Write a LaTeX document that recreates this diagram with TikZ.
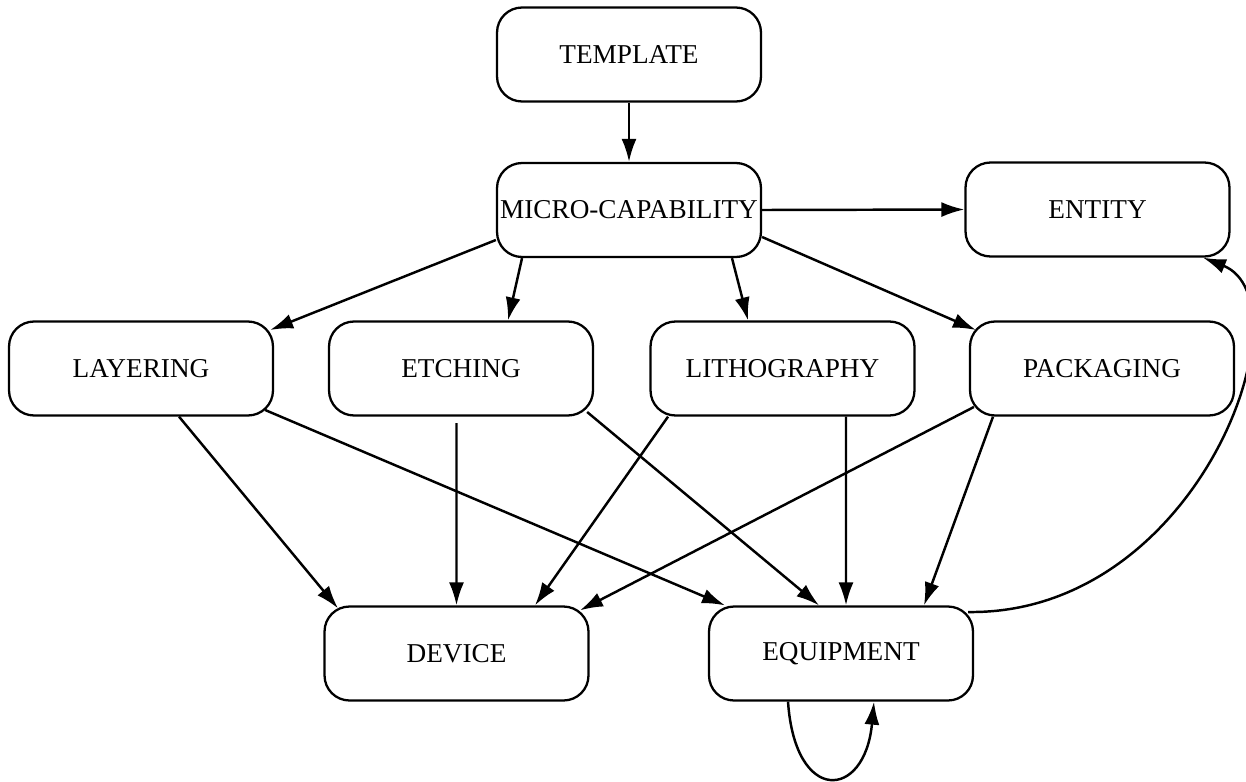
\documentclass[tikz,border=0pt]{standalone}
\usepackage{fontspec}
\setmainfont{Liberation Serif}
\usetikzlibrary{arrows.meta}

\begin{document}
\begin{tikzpicture}[x = 0.02cm, y = -0.02cm,
    box/.style = {shape = rectangle, draw, rounded corners = 0.5cm, line width = 1.3pt,
        minimum width = 5.28cm, minimum height = 1.88cm, inner sep = 0pt,
        font = \fontsize{15.5}{18}\selectfont},
    link/.style = {line width = 1.4pt, -{Latex[length = 0.46cm, width = 0.3cm]}}]
    \useasboundingbox (0,0) rectangle (1246,781);
    \node[box] (T) at (629,54.5) {TEMPLATE};
    \node[box] (MC) at (629,210) {MICRO-CAPABILITY};
    \node[box] (EN) at (1097.5,209.5) {ENTITY};
    \node[box] (LA) at (141,368.5) {LAYERING};
    \node[box] (ET) at (461,368.5) {ETCHING};
    \node[box] (LI) at (782.5,368.5) {LITHOGRAPHY};
    \node[box] (PA) at (1102,368.5) {PACKAGING};
    \node[box] (DE) at (456.5,653.5) {DEVICE};
    \node[box] (EQ) at (841,653.5) {EQUIPMENT};

    \draw[link] (T.south) -- (MC.north);
    \draw[link] (MC.east) -- (EN.west);
    \draw[link] ([yshift = -0.6cm]MC.west) -- ([xshift = -0.08cm, yshift = 0.77cm]LA.east);
    \draw[link] ([xshift = -2.14cm]MC.south) -- ([xshift = 0.94cm]ET.north);
    \draw[link] ([xshift = 2.06cm]MC.south) -- ([xshift = -0.69cm]LI.north);
    \draw[link] ([yshift = -0.54cm]MC.east) -- ([xshift = 0.14cm, yshift = 0.77cm]PA.west);

    \draw[link] ([xshift = 0.76cm]LA.south) -- ([xshift = -2.37cm, yshift = -0.06cm]DE.north);
    \draw[link] ([xshift = -0.18cm, yshift = -0.83cm]LA.east) -- ([xshift = -2.32cm]EQ.north);
    \draw[link] ([xshift = -0.09cm, yshift = -0.13cm]ET.south) -- (DE.north);
    \draw[link] ([xshift = -0.14cm, yshift = -0.87cm]ET.east) -- ([xshift = -0.44cm]EQ.north);
    \draw[link] ([xshift = -2.29cm]LI.south) -- ([xshift = 1.57cm]DE.north);
    \draw[link] ([xshift = 1.27cm]LI.south) -- ([xshift = 0.1cm]EQ.north);
    \draw[link] ([xshift = 0.1cm, yshift = -0.77cm]PA.west) -- ([xshift = 2.47cm, yshift = -0.1cm]DE.north);
    \draw[link] ([xshift = -2.18cm]PA.south) -- ([xshift = 1.66cm]EQ.north);

    \draw[link] ([xshift = -0.12cm, yshift = 0.83cm]EQ.east) .. controls (1200,615) and (1310,300) .. ([xshift = 2.11cm]EN.south);
    \draw[link] ([xshift = -1.06cm]EQ.south) .. controls (795,805) and (865,800) .. ([xshift = 0.66cm]EQ.south);
\end{tikzpicture}
\end{document}
